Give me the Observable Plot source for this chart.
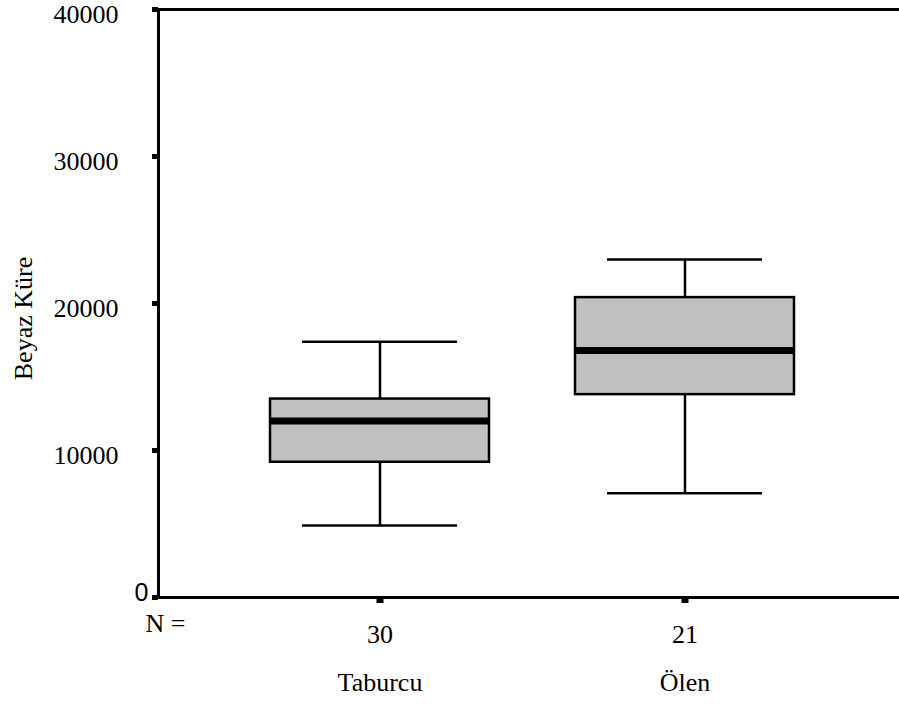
<!DOCTYPE html>
<html>
<head>
<meta charset="utf-8">
<script src="https://cdn.jsdelivr.net/npm/d3@7"></script>
<script src="https://cdn.jsdelivr.net/npm/@observablehq/plot@0.6"></script>
<style>
  html, body { margin: 0; padding: 0; background: #fff; }
  #chart svg { display: block; }
</style>
</head>
<body>
<div id="chart"></div>
<script>
// Groups and their five-number summaries (white blood cell count)
const groups  = ["Taburcu", "Ölen"];
const counts  = [30, 21];
const lowers  = [4900, 7100];
const q1s     = [9200, 13800];
const medians = [12000, 16800];
const q3s     = [13500, 20400];
const uppers  = [17400, 23000];

const yTicks = [0, 10000, 20000, 30000, 40000];
const yLabel = "Beyaz Küre";
const nLabel = "N =";

const rows = groups.map((g, i) => ({
  group: g, n: counts[i], lower: lowers[i], q1: q1s[i],
  median: medians[i], q3: q3s[i], upper: uppers[i]
}));

const serif = "'Liberation Serif', 'Times New Roman', serif";
const sans = "'Liberation Sans', Arial, sans-serif";

const chart = Plot.plot({
  width: 899,
  height: 704,
  marginLeft: 158,
  marginRight: 0,
  marginTop: 9,
  marginBottom: 107,
  style: {fontFamily: serif, fontSize: "26px", color: "black", background: "white"},
  x: {type: "band", domain: groups, range: [270, 794], paddingInner: 0.282, paddingOuter: 0, axis: null},
  y: {domain: [0, 40000], axis: null},
  marks: [
    // whiskers
    Plot.ruleX(rows, {x: "group", y1: "q3", y2: "upper", stroke: "black", strokeWidth: 2.5}),
    Plot.ruleX(rows, {x: "group", y1: "lower", y2: "q1", stroke: "black", strokeWidth: 2.5}),
    Plot.tickY(rows, {x: "group", y: "upper", stroke: "black", strokeWidth: 2.5, insetLeft: 32, insetRight: 32}),
    Plot.tickY(rows, {x: "group", y: "lower", stroke: "black", strokeWidth: 2.5, insetLeft: 32, insetRight: 32}),
    // boxes
    Plot.barY(rows, {x: "group", y1: "q1", y2: "q3", fill: "#c0c0c0", stroke: "black", strokeWidth: 2.5}),
    // medians
    Plot.tickY(rows, {x: "group", y: "median", stroke: "black", strokeWidth: 7}),
    // frame lines: left, top, bottom
    Plot.frame({anchor: "left", stroke: "black", strokeWidth: 3}),
    Plot.frame({anchor: "top", stroke: "black", strokeWidth: 3}),
    Plot.frame({anchor: "bottom", stroke: "black", strokeWidth: 3}),
    // y tick marks
    Plot.axisY({ticks: yTicks, tickSize: 6, strokeWidth: 5, tickFormat: () => "", label: null}),
    // x tick marks
    Plot.axisX({tickSize: 6, strokeWidth: 7, tickFormat: () => "", label: null}),
    // y tick labels
    Plot.text(yTicks.filter(d => d !== 0), {
      y: d => d, text: d => String(d), frameAnchor: "left", textAnchor: "end", lineAnchor: "middle",
      dx: -40, dy: 5, fontFamily: serif, fontSize: 26, fill: "black"
    }),
    Plot.text(yTicks.filter(d => d === 0), {
      y: d => d, text: d => String(d), frameAnchor: "left", textAnchor: "end", lineAnchor: "middle",
      dx: -10, dy: -5, fontFamily: sans, fontSize: 25, fill: "black"
    }),
    // y axis title
    Plot.text([yLabel], {
      text: d => d, frameAnchor: "left", textAnchor: "middle", lineAnchor: "middle",
      rotate: -90, dx: -135, dy: 15,
      fontFamily: serif, fontSize: 26, fill: "black"
    }),
    // counts and group names below the axis
    Plot.text([nLabel], {
      text: d => d, frameAnchor: "bottom-left", textAnchor: "end", lineAnchor: "middle", dx: 27, dy: 26,
      fontFamily: serif, fontSize: 26, fill: "black"
    }),
    Plot.text(rows, {
      x: "group", text: d => String(d.n), frameAnchor: "bottom", lineAnchor: "middle", dy: 37,
      fontFamily: serif, fontSize: 26, fill: "black"
    }),
    Plot.text(rows, {
      x: "group", text: "group", frameAnchor: "bottom", lineAnchor: "middle", dy: 85,
      fontFamily: serif, fontSize: 26, fill: "black"
    })
  ]
});

document.getElementById("chart").append(chart);
</script>
</body>
</html>
